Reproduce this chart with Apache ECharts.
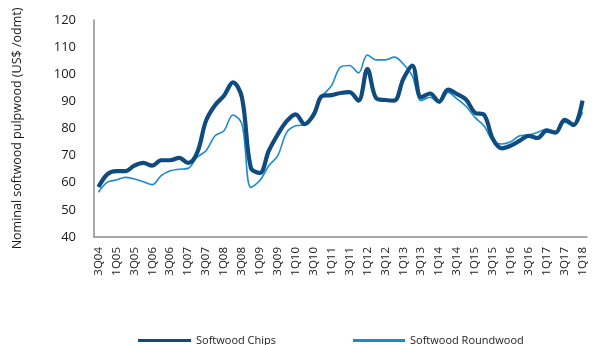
<!DOCTYPE html>
<html>
<head>
<meta charset="utf-8">
<script src="https://cdn.jsdelivr.net/npm/echarts@6/dist/echarts.min.js"></script>
<style>
  html, body { margin: 0; padding: 0; background: #fff; }
  #chart { width: 595px; height: 345px; }
</style>
</head>
<body>
<div id="chart"></div>
<script>
// Quarterly periods, 3Q04 through 1Q18
const quarters = [
  '3Q04','4Q04',
  '1Q05','2Q05','3Q05','4Q05',
  '1Q06','2Q06','3Q06','4Q06',
  '1Q07','2Q07','3Q07','4Q07',
  '1Q08','2Q08','3Q08','4Q08',
  '1Q09','2Q09','3Q09','4Q09',
  '1Q10','2Q10','3Q10','4Q10',
  '1Q11','2Q11','3Q11','4Q11',
  '1Q12','2Q12','3Q12','4Q12',
  '1Q13','2Q13','3Q13','4Q13',
  '1Q14','2Q14','3Q14','4Q14',
  '1Q15','2Q15','3Q15','4Q15',
  '1Q16','2Q16','3Q16','4Q16',
  '1Q17','2Q17','3Q17','4Q17',
  '1Q18'
];

// Softwood chip prices, US$/odmt
const chips = [
  58.4, 63.2,
  64.3, 64.3, 66.3, 67.3,
  66.3, 68.3, 68.3, 69.2,
  67.3, 71.0, 82.9, 88.6,
  92.1, 97.0, 91.5, 65.5,
  63.6, 71.8, 77.8, 82.7,
  85.2, 81.6, 85.0, 92.1,
  92.3, 93.1, 93.4, 90.3,
  101.9, 91.1, 90.5, 90.3,
  98.2, 103.2, 91.5, 92.9,
  89.9, 94.3, 92.7, 90.7,
  85.8, 85.1, 76.1, 72.7,
  73.7, 75.5, 77.3, 76.5,
  79.2, 78.5, 83.2, 81.3,
  90.3
];

// Softwood roundwood prices, US$/odmt
const roundwood = [
  56.5, 60.2,
  61.0, 62.0, 61.4, 60.4,
  59.3, 62.6, 64.4, 65.0,
  65.3, 69.4, 71.8, 77.3,
  79.2, 85.0, 81.7, 58.3,
  60.8, 66.3, 70.0, 78.6,
  81.0, 81.4, 86.0, 92.1,
  95.8, 102.6, 103.2, 100.5,
  107.1, 105.3, 105.3, 106.3,
  103.8, 99.5, 90.3, 91.5,
  89.4, 93.3, 90.9, 88.2,
  84.1, 81.0, 75.5, 74.3,
  75.1, 77.3, 77.6, 78.6,
  79.8, 78.6, 82.3, 81.3,
  86.0
];

const yTicks = { min: 40, max: 120, step: 10 };

const CHIPS_COLOR = '#0f4b7f';
const ROUND_COLOR = '#1a8bcd';
const FONT = '"Open Sans", "Noto Sans", sans-serif';

const chart = echarts.init(document.getElementById('chart'), null, { renderer: 'canvas' });

const legendText = { fontFamily: FONT, fontSize: 11, color: '#222' };

chart.setOption({
  animation: false,
  backgroundColor: '#ffffff',
  grid: { left: 94, right: 8, top: 20, bottom: 108, containLabel: false },
  legend: [
    {
      data: [{ name: 'Softwood Chips', icon: 'rect' }],
      left: 133, top: 330,
      itemWidth: 53, itemHeight: 3, itemGap: 5,
      textStyle: legendText
    },
    {
      data: [{ name: 'Softwood Roundwood', icon: 'rect' }],
      left: 348, top: 330,
      itemWidth: 52, itemHeight: 3, itemGap: 5,
      textStyle: legendText
    }
  ],
  xAxis: {
    type: 'category',
    data: quarters,
    boundaryGap: true,
    axisLine: { show: true, lineStyle: { color: '#8c8c8c', width: 1.5 } },
    axisTick: { show: false },
    axisLabel: {
      interval: 1,
      rotate: 90,
      margin: 10,
      fontFamily: FONT,
      fontSize: 11.5,
      color: '#1a1a1a'
    },
    splitLine: { show: false }
  },
  yAxis: {
    type: 'value',
    min: yTicks.min,
    max: yTicks.max,
    interval: yTicks.step,
    name: 'Nominal softwood pulpwood (US$ /odmt)',
    nameLocation: 'middle',
    nameGap: 70,
    nameRotate: 90,
    nameTextStyle: { fontFamily: FONT, fontSize: 12.5, color: '#1a1a1a' },
    axisLine: { show: true, lineStyle: { color: '#8c8c8c', width: 1.5 } },
    axisTick: { show: false },
    axisLabel: {
      margin: 18,
      fontFamily: FONT,
      fontSize: 13,
      color: '#1a1a1a'
    },
    splitLine: { show: false }
  },
  series: [
    {
      name: 'Softwood Chips',
      type: 'line',
      data: chips,
      smooth: 0.35,
      showSymbol: false,
      z: 3,
      lineStyle: { color: CHIPS_COLOR, width: 4.2 },
      itemStyle: { color: CHIPS_COLOR }
    },
    {
      name: 'Softwood Roundwood',
      type: 'line',
      data: roundwood,
      smooth: 0.35,
      showSymbol: false,
      z: 2,
      lineStyle: { color: ROUND_COLOR, width: 1.6 },
      itemStyle: { color: ROUND_COLOR }
    }
  ]
});
</script>
</body>
</html>
